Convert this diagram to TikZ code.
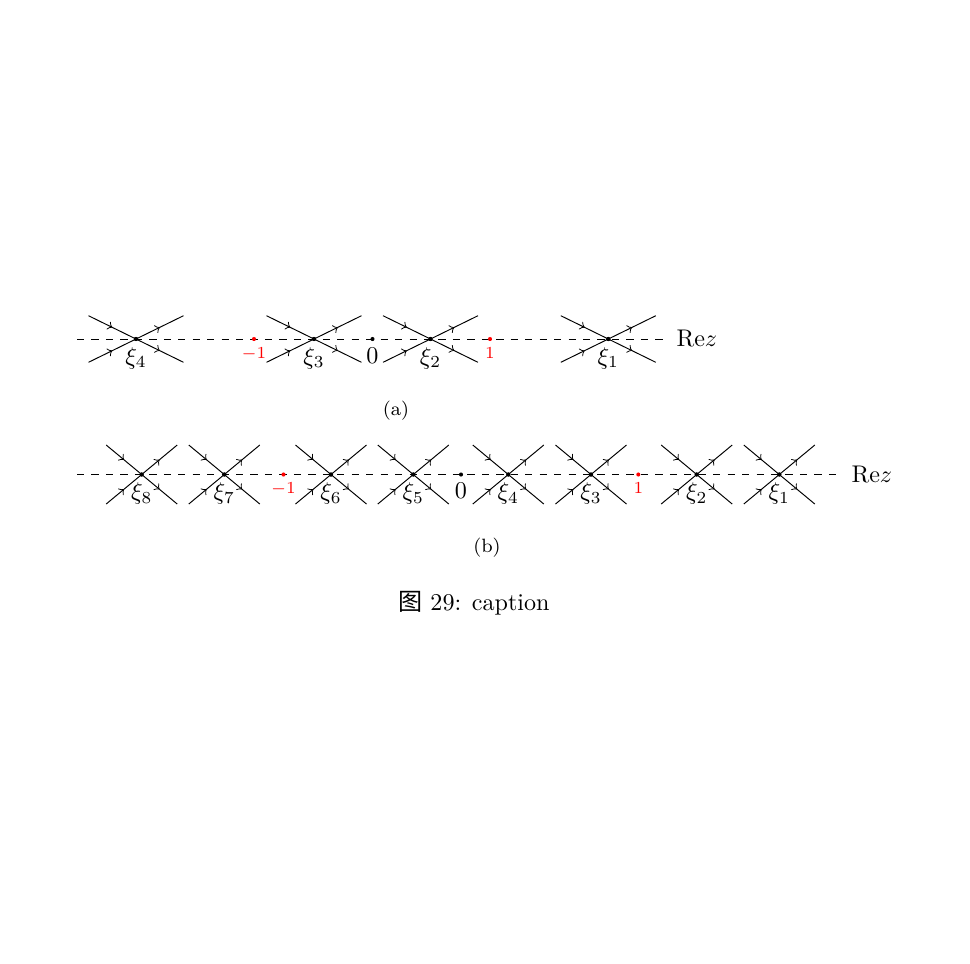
\documentclass[tikz,border=0pt]{standalone}
\usepackage{fontspec}
\newfontfamily\cjkfont{Noto Sans CJK SC}
\usetikzlibrary{decorations.markings}
\begin{document}
\begin{tikzpicture}[x=0.415pt,y=-0.415pt,
  axisline/.style={dashed},
  arm/.style={postaction={decorate},decoration={markings,
    mark=at position 0.25 with {\arrow{>}},
    mark=at position 0.75 with {\arrow{>}}}},
  pt/.style={circle,fill,inner sep=0pt,minimum size=1.7pt},
  redlab/.style={below,red,font=\scriptsize},
  xilab/.style={below}]
\useasboundingbox (0,0) rectangle (970,963);
% ---------- (a)
\coordinate (as) at (77,339);
\coordinate (ae) at (668,339);
\draw[axisline] (as) -- (ae);
\node[right] (rea) at (ae) {$\mathrm{Re}z$};
\foreach \n/\x in {4/136,3/314,2/430.5,1/608.3}{
  \node[pt] (a\n) at (\x,339) {};
  \draw[arm] (a\n.center) ++(-47.5,-23.3) -- ++(95,46.6);
  \draw[arm] (a\n.center) ++(-47.5,23.3) -- ++(95,-46.6);
  \node[pt] at (a\n) {};
  \node[xilab] (la\n) at (a\n.center) {$\xi_{\n}$};
}
\node[pt,red] (am1) at (254,339) {};
\node[redlab] (lam1) at (am1.center) {$-1$};
\node[pt] (a0) at (372.5,339) {};
\node[below] (la0) at (a0.center) {$0$};
\node[pt,red] (ap1) at (490,339) {};
\node[redlab] (lap1) at (ap1.center) {$1$};
\node[font=\footnotesize] (capa) at (396,411) {(a)};
% ---------- (b)
\coordinate (bs) at (77,474.5);
\coordinate (be) at (843,474.5);
\draw[axisline] (bs) -- (be);
\node[right] (reb) at (be) {$\mathrm{Re}z$};
\foreach \n/\x in {8/141.7,7/224.3,6/331,5/413.3,4/508.3,3/591,2/696.7,1/779.3}{
  \node[pt] (b\n) at (\x,474.5) {};
  \draw[arm] (b\n.center) ++(-35.5,-29.5) -- ++(71,59);
  \draw[arm] (b\n.center) ++(-35.5,29.5) -- ++(71,-59);
  \node[pt] at (b\n) {};
  \node[xilab] (lb\n) at (b\n.center) {$\xi_{\n}$};
}
\node[pt,red] (bm1) at (283.5,474.5) {};
\node[redlab] (lbm1) at (bm1.center) {$-1$};
\node[pt] (b0) at (461,474.5) {};
\node[below] (lb0) at (b0.center) {$0$};
\node[pt,red] (bp1) at (638.3,474.5) {};
\node[redlab] (lbp1) at (bp1.center) {$1$};
\node[font=\footnotesize] (capb) at (487,548) {(b)};
% ---------- caption
\node (cap) at (474,603) {{\cjkfont 图} 29: caption};
\end{tikzpicture}
\end{document}
